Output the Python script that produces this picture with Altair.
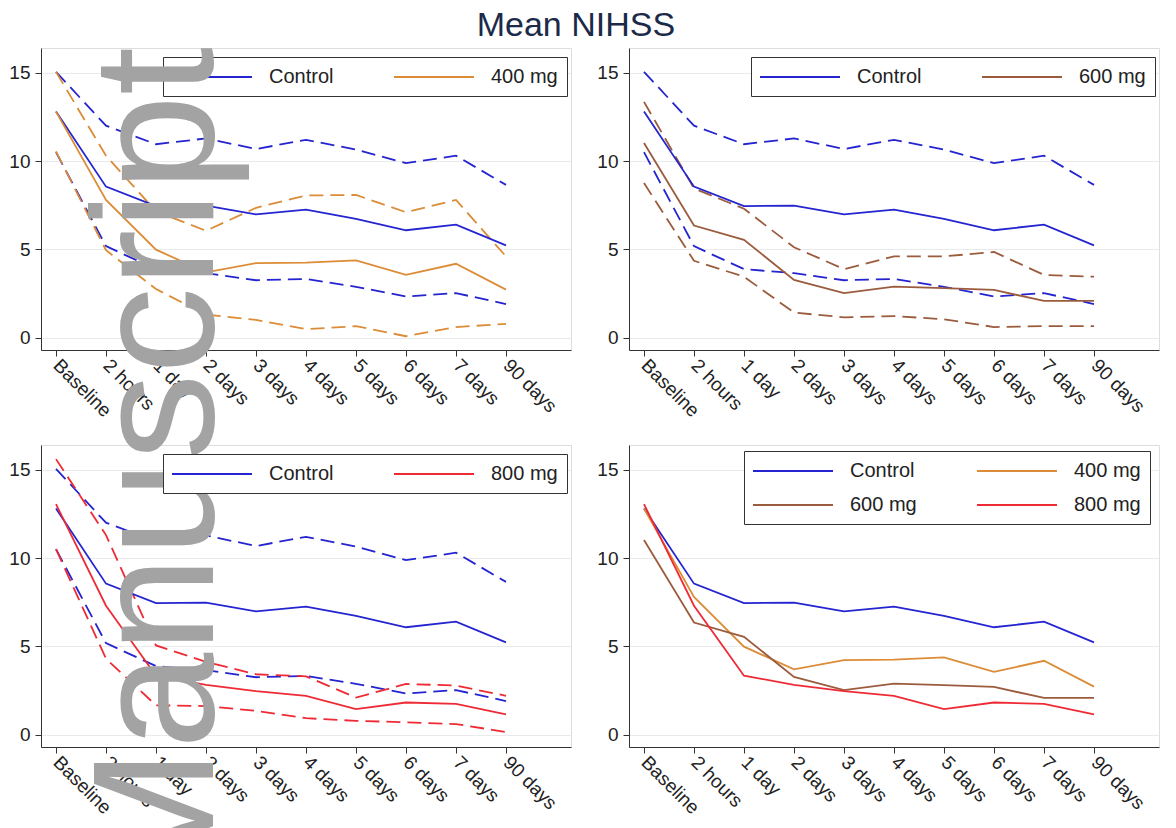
import altair as alt
import pandas as pd

FONT = "Liberation Sans"

times = ["Baseline", "2 hours", "1 day", "2 days", "3 days", "4 days",
         "5 days", "6 days", "7 days", "90 days"]

control_mean = [12.8, 8.55, 7.45, 7.48, 6.98, 7.25, 6.72, 6.08, 6.40, 5.22]
control_upper = [15.05, 12.0, 10.95, 11.28, 10.68, 11.2, 10.65, 9.88, 10.3, 8.65]
control_lower = [10.5, 5.18, 3.88, 3.65, 3.25, 3.32, 2.88, 2.33, 2.52, 1.9]

mg400_mean = [12.8, 7.8, 4.98, 3.7, 4.22, 4.25, 4.37, 3.55, 4.18, 2.72]
mg400_upper = [15.05, 10.3, 7.15, 6.05, 7.35, 8.05, 8.08, 7.1, 7.8, 4.6]
mg400_lower = [10.55, 4.95, 2.75, 1.3, 1.0, 0.48, 0.65, 0.08, 0.6, 0.78]

mg600_mean = [11.02, 6.35, 5.54, 3.27, 2.52, 2.89, 2.8, 2.7, 2.08, 2.08]
mg600_upper = [13.35, 8.45, 7.3, 5.12, 3.88, 4.6, 4.6, 4.85, 3.55, 3.45]
mg600_lower = [8.75, 4.35, 3.45, 1.42, 1.15, 1.22, 1.04, 0.6, 0.65, 0.65]

mg800_mean = [13.05, 7.3, 3.34, 2.82, 2.46, 2.2, 1.45, 1.82, 1.74, 1.15]
mg800_upper = [15.6, 11.3, 5.05, 4.12, 3.42, 3.3, 2.1, 2.87, 2.78, 2.2]
mg800_lower = [10.5, 4.3, 1.66, 1.62, 1.35, 0.93, 0.78, 0.7, 0.6, 0.15]

group_colors = {"Control": "#2424d0", "400 mg": "#dc8c36",
                "600 mg": "#9b5b3d", "800 mg": "#ee2b35"}

title_text = "Mean NIHSS"
watermark_text = ["Manuscript"]

W, H = 530, 302
LABEL_EXPR = "[" + ",".join("'%s'" % t for t in times) + "][datum.value]"


def build_df(groups):
    rows = []
    for g, stats in groups:
        for stat, vals in stats.items():
            for i, v in enumerate(vals):
                rows.append({"group": g, "stat": stat, "idx": i, "value": v,
                             "col": group_colors[g]})
    return pd.DataFrame(rows)


def panel(groups, lx, ly, ci=True, watermark=False):
    names = [g for g, _ in groups]
    colors = [group_colors[g] for g in names]
    df = build_df(groups)
    base = alt.Chart(df)
    xenc = alt.X(
        "idx:Q",
        scale=alt.Scale(domain=[-0.3, 10.3], nice=False, zero=False),
        axis=alt.Axis(values=list(range(10)), labelExpr=LABEL_EXPR, title=None,
                      grid=False, labelAngle=45, labelAlign="left",
                      labelBaseline="middle", labelPadding=6, tickSize=6,
                      labelFontSize=19, labelFont=FONT, labelColor="#222",
                      labelFlush=False, labelOverlap=False,
                      domainColor="#333", tickColor="#333"),
    )
    yenc = alt.Y(
        "value:Q",
        scale=alt.Scale(domain=[-0.7, 16.4], nice=False, zero=False),
        axis=alt.Axis(values=[0, 5, 10, 15], title=None, grid=True,
                      gridColor="#e8eaec", tickSize=6, labelPadding=5,
                      labelFontSize=19, labelFont=FONT, labelColor="#222",
                      domainColor="#333", tickColor="#333"),
    )
    cscale = alt.Scale(domain=names, range=colors)
    legend = alt.Legend(title=None, orient="none", legendX=lx, legendY=ly,
                        columns=2, direction="horizontal",
                        symbolType="M-4,0H4", symbolSize=400,
                        symbolOffset=29, symbolStrokeWidth=2,
                        labelFontSize=20, labelFont=FONT, labelOffset=46,
                        labelColor="#222", strokeColor="#333", fillColor="white",
                        padding=9, columnPadding=56, rowPadding=13)
    layers = []
    if ci:
        layers.append(
            base.transform_filter(alt.datum.stat != "mean")
            .mark_line(strokeWidth=1.8, strokeDash=[14, 7])
            .encode(x=xenc, y=yenc,
                    stroke=alt.Stroke("col:N", scale=None),
                    detail=["group:N", "stat:N"])
        )
    layers.append(
        base.transform_filter(alt.datum.stat == "mean")
        .mark_line(strokeWidth=1.8)
        .encode(x=xenc, y=yenc,
                color=alt.Color("group:N", scale=cscale, legend=legend))
    )
    if watermark:
        wm = pd.DataFrame({"t": watermark_text})
        layers.append(
            alt.Chart(wm).mark_text(angle=270, align="right", baseline="alphabetic",
                                    fontSize=173, font=FONT, color="#a3a3a3")
            .encode(x=alt.value(172), y=alt.value(-398), text="t:N")
        )
    return alt.layer(*layers).properties(width=W, height=H)


p1 = panel([("Control", {"mean": control_mean, "upper": control_upper, "lower": control_lower}),
            ("400 mg", {"mean": mg400_mean, "upper": mg400_upper, "lower": mg400_lower})],
           122, 9)
p2 = panel([("Control", {"mean": control_mean, "upper": control_upper, "lower": control_lower}),
            ("600 mg", {"mean": mg600_mean, "upper": mg600_upper, "lower": mg600_lower})],
           122, 9)
p3 = panel([("Control", {"mean": control_mean, "upper": control_upper, "lower": control_lower}),
            ("800 mg", {"mean": mg800_mean, "upper": mg800_upper, "lower": mg800_lower})],
           122, 9, watermark=True)
p4 = panel([("Control", {"mean": control_mean}),
            ("400 mg", {"mean": mg400_mean}),
            ("600 mg", {"mean": mg600_mean}),
            ("800 mg", {"mean": mg800_mean})],
           115, 6, ci=False)

chart = (
    alt.concat(p1, p2, p3, p4, columns=2,
               spacing=alt.RowColnumber(row=95, column=58), bounds="flush")
    .resolve_scale(color="independent")
    .resolve_legend(color="independent")
    .properties(padding=0,
                title=alt.TitleParams(title_text, fontSize=34, font=FONT,
                                      color="#1c2a4a", fontWeight="normal",
                                      anchor="middle", offset=4, dx=-8))
    .configure_view(stroke=None)
    .configure(background="white")
)

chart.save("out.html", embed_options={"renderer": "svg", "actions": False})
